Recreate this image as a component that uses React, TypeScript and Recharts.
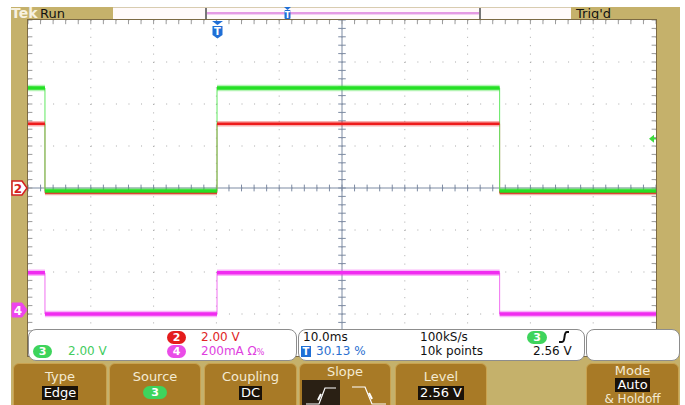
import React from "react";
import {
  CartesianGrid,
  Line,
  LineChart,
  ReferenceDot,
  ReferenceLine,
  XAxis,
  YAxis,
} from "recharts";

// Horizontal unit = graticule division (10 across), vertical unit = division (8 tall, 0 = centre).
const EDGES = [0, 0.27, 3.01, 7.51, 10];
const CH3_LEVELS = [2.38, -0.07, 2.38, -0.07]; // green
const CH2_LEVELS = [1.53, -0.11, 1.53, -0.11]; // red
const CH4_LEVELS = [-2.02, -3.0, -2.02, -3.0]; // magenta
const TRIG_LEVEL = 1.17;

const X_TICKS = [0, 1, 2, 3, 4, 5, 6, 7, 8, 9, 10];
const Y_TICKS = [-4, -3, -2, -1, 0, 1, 2, 3, 4];
const MINOR_X = Array.from({ length: 51 }, (_, i) => i / 5);
const MINOR_Y = Array.from({ length: 41 }, (_, i) => i / 5 - 4);

const PLOT_W = 628;
const PLOT_H = 336;

const TAN = "#c5b16b";
const BTN = "#a87a26";
const FONT = '"DejaVu Sans", Verdana, sans-serif';

type Row = { t: number; v: number | null };

// full trace incl. the vertical edges
function stepRows(levels: number[]): Row[] {
  const rows: Row[] = [];
  levels.forEach((v, i) => {
    rows.push({ t: EDGES[i], v });
    rows.push({ t: EDGES[i + 1], v });
  });
  return rows;
}

// only the flat (noisy) parts, broken at each edge
function flatRows(levels: number[]): Row[] {
  const rows: Row[] = [];
  levels.forEach((v, i) => {
    if (i > 0) rows.push({ t: EDGES[i], v: null });
    rows.push({ t: EDGES[i], v });
    rows.push({ t: EDGES[i + 1], v });
  });
  return rows;
}

function Txt({
  x,
  y,
  color = "#111",
  size = 12,
  bold = false,
  children,
}: {
  x: number;
  y: number;
  color?: string;
  size?: number;
  bold?: boolean;
  children: React.ReactNode;
}) {
  return (
    <span
      style={{
        position: "absolute",
        left: x,
        top: y,
        color,
        fontSize: size,
        fontWeight: bold ? 700 : 400,
        lineHeight: 1,
        whiteSpace: "nowrap",
        fontFamily: FONT,
      }}
    >
      {children}
    </span>
  );
}

function Pill({ x, y, w, h, bg, text }: { x: number; y: number; w: number; h: number; bg: string; text: string }) {
  return (
    <span
      style={{
        position: "absolute",
        left: x,
        top: y,
        width: w,
        height: h,
        borderRadius: h / 2,
        background: bg,
        color: "#fff",
        fontSize: 11,
        fontWeight: 700,
        lineHeight: `${h}px`,
        textAlign: "center",
        fontFamily: FONT,
      }}
    >
      {text}
    </span>
  );
}

function Button({ x, w, children }: { x: number; w: number; children?: React.ReactNode }) {
  return (
    <div
      style={{
        position: "absolute",
        left: x,
        top: 363,
        width: w,
        height: 44,
        background: BTN,
        border: "1px solid #c9a24f",
        borderRadius: "6px 6px 0 0",
        boxSizing: "border-box",
      }}
    >
      {children}
    </div>
  );
}

function BtnLabel({ y, size = 13, children }: { y: number; size?: number; children: React.ReactNode }) {
  return (
    <div
      style={{
        position: "absolute",
        left: 0,
        right: 0,
        top: y,
        textAlign: "center",
        color: "#f4ead2",
        fontSize: size,
        lineHeight: 1,
        fontFamily: FONT,
        whiteSpace: "nowrap",
      }}
    >
      {children}
    </div>
  );
}

function BtnValue({ y, children }: { y: number; children: React.ReactNode }) {
  return (
    <div style={{ position: "absolute", left: 0, right: 0, top: y, textAlign: "center", lineHeight: "14px", height: 14 }}>
      <span
        style={{
          background: "#1a1208",
          color: "#fff",
          fontSize: 13,
          padding: "0 2px",
          fontFamily: FONT,
          lineHeight: "14px",
          display: "inline-block",
          verticalAlign: "top",
        }}
      >
        {children}
      </span>
    </div>
  );
}

function TrigArrow(props: any) {
  const { cx, cy } = props;
  return (
    <g>
      <polygon points={`${cx - 7},${cy} ${cx - 2},${cy - 4} ${cx - 2},${cy + 4}`} fill="#3ddc3d" />
      <line x1={cx - 2} y1={cy} x2={cx + 1} y2={cy} stroke="#3ddc3d" strokeWidth={1.5} />
    </g>
  );
}

export default function App() {
  const seriesDefs = [
    { key: "ch2", levels: CH2_LEVELS, color: "#ee1c1c", edge: "#f06060", w: 2.5 },
    { key: "ch3", levels: CH3_LEVELS, color: "#25e025", edge: "#60e860", w: 3.5 },
    { key: "ch4", levels: CH4_LEVELS, color: "#f02cf0", edge: "#f070f0", w: 3.5 },
  ];

  return (
    <div style={{ position: "absolute", left: 0, top: 0, width: 685, height: 405, background: "#fff", overflow: "hidden" }}>
      {/* scope frame */}
      <div style={{ position: "absolute", left: 11, top: 7, width: 669, height: 398, background: TAN }} />

      {/* top status bar */}
      <div style={{ position: "absolute", left: 113, top: 7, width: 458, height: 13, background: "#fffafa", borderTop: "1px solid #d8ccb0", boxSizing: "border-box" }} />
      <Txt x={11} y={6} color="#f7f1e0" size={14} bold>
        Tek
      </Txt>
      <Txt x={40} y={7} color="#111" size={13}>
        Run
      </Txt>
      <Txt x={576} y={7} color="#111" size={13}>
        Trig&apos;d
      </Txt>
      {/* record view */}
      <div style={{ position: "absolute", left: 205, top: 8, width: 276, height: 11, borderLeft: "2px solid #777", borderRight: "2px solid #777", boxSizing: "border-box" }} />
      <div style={{ position: "absolute", left: 207, top: 12, width: 272, height: 2, background: "#e49be4" }} />
      <div style={{ position: "absolute", left: 207, top: 14, width: 272, height: 1, background: "#f2d0f2" }} />
      <svg style={{ position: "absolute", left: 283, top: 7 }} width={9} height={13}>
        <polygon points="1,0 8,0 4.5,3" fill="#1f6fd6" />
        <rect x={1.5} y={3} width={6} height={9} rx={1} fill="#1f6fd6" />
        <text x={4.5} y={11} fontSize={8} fill="#fff" textAnchor="middle" fontFamily={FONT} fontWeight={700}>
          T
        </text>
      </svg>

      {/* graticule area */}
      <div style={{ position: "absolute", left: 27, top: 19, width: PLOT_W + 2, height: PLOT_H + 2, background: "#fff", border: "1px solid #7c6a44", boxSizing: "border-box" }} />
      <div style={{ position: "absolute", left: 28, top: 20 }}>
        <LineChart width={PLOT_W} height={PLOT_H} margin={{ top: 0, right: 0, bottom: 0, left: 0 }}>
          <XAxis type="number" dataKey="t" domain={[0, 10]} ticks={X_TICKS} hide allowDuplicatedCategory={false} />
          <YAxis type="number" domain={[-4, 4]} ticks={Y_TICKS} hide />
          <CartesianGrid vertical={false} stroke="#a9a9a9" strokeDasharray="1 11.56" />
          <CartesianGrid horizontal={false} stroke="#a9a9a9" strokeDasharray="1 7.4" />
          <ReferenceLine x={5} stroke="#7d8ba3" strokeWidth={1} />
          <ReferenceLine y={0} stroke="#7d8ba3" strokeWidth={1} />
          {MINOR_X.map((x) => (
            <ReferenceLine key={`cx${x}`} segment={[{ x, y: -0.08 }, { x, y: 0.08 }]} stroke="#7d8ba3" />
          ))}
          {MINOR_Y.map((y) => (
            <ReferenceLine key={`cy${y}`} segment={[{ x: 4.94, y }, { x: 5.06, y }]} stroke="#7d8ba3" />
          ))}
          {MINOR_X.map((x) => (
            <ReferenceLine key={`tx${x}`} segment={[{ x, y: 4 }, { x, y: 3.9 }]} stroke="#9a9a9a" />
          ))}
          {MINOR_Y.map((y) => (
            <ReferenceLine key={`lx${y}`} segment={[{ x: 0, y }, { x: 0.07, y }]} stroke="#9a9a9a" />
          ))}
          {MINOR_Y.map((y) => (
            <ReferenceLine key={`rx${y}`} segment={[{ x: 9.93, y }, { x: 10, y }]} stroke="#9a9a9a" />
          ))}
          {seriesDefs.map((s) => (
            <Line
              key={`${s.key}-edge`}
              data={stepRows(s.levels)}
              dataKey="v"
              type="linear"
              stroke={s.edge}
              strokeWidth={1}
              dot={false}
              isAnimationActive={false}
            />
          ))}
          {seriesDefs.map((s) => (
            <Line
              key={`${s.key}-halo`}
              data={flatRows(s.levels)}
              dataKey="v"
              type="linear"
              stroke={s.color}
              strokeOpacity={0.35}
              strokeWidth={s.w + 3}
              dot={false}
              isAnimationActive={false}
            />
          ))}
          {seriesDefs.map((s) => (
            <Line
              key={`${s.key}-core`}
              data={flatRows(s.levels)}
              dataKey="v"
              type="linear"
              stroke={s.color}
              strokeWidth={s.w}
              dot={false}
              isAnimationActive={false}
            />
          ))}
          <ReferenceDot x={10} y={TRIG_LEVEL} r={0} shape={TrigArrow} ifOverflow="visible" />
        </LineChart>
      </div>

      {/* trigger position marker */}
      <svg style={{ position: "absolute", left: 211, top: 21 }} width={13} height={18}>
        <polygon points="1,0 12,0 6.5,4" fill="#1f6fd6" />
        <path d="M1.5 5 H11.5 V14 L6.5 17.5 L1.5 14 Z" fill="#1f6fd6" />
        <text x={6.5} y={14} fontSize={10} fill="#fff" textAnchor="middle" fontFamily={FONT} fontWeight={700}>
          T
        </text>
      </svg>

      {/* channel ground markers */}
      <svg style={{ position: "absolute", left: 11, top: 180 }} width={17} height={16}>
        <path d="M1 1 H11 L16 8 L11 15 H1 Z" fill="#fff" stroke="#d42020" strokeWidth={1.5} />
        <text x={7} y={13} fontSize={12} fill="#d42020" textAnchor="middle" fontFamily={FONT} fontWeight={700}>
          2
        </text>
      </svg>
      <svg style={{ position: "absolute", left: 11, top: 302 }} width={17} height={16}>
        <path d="M1 1 H11 L16 8 L11 15 H1 Z" fill="#ee44ee" stroke="#ee44ee" strokeWidth={1} />
        <text x={7} y={13} fontSize={12} fill="#fff" textAnchor="middle" fontFamily={FONT} fontWeight={700}>
          4
        </text>
      </svg>

      {/* readout panels */}
      {[
        { x: 28, w: 269 },
        { x: 298, w: 287 },
        { x: 586, w: 94 },
      ].map((p) => (
        <div
          key={p.x}
          style={{
            position: "absolute",
            left: p.x,
            top: 329,
            width: p.w,
            height: 32,
            background: "#fff",
            border: "1px solid #8d8d8d",
            borderRadius: 8,
            boxSizing: "border-box",
          }}
        />
      ))}
      <Pill x={167} y={331} w={19} h={13} bg="#e41c1c" text="2" />
      <Txt x={201} y={331} color="#e02626">
        2.00 V
      </Txt>
      <Pill x={33} y={345} w={19} h={13} bg="#3ed45c" text="3" />
      <Txt x={68} y={345} color="#43cc5e">
        2.00 V
      </Txt>
      <Pill x={167} y={345} w={19} h={13} bg="#ea4ce8" text="4" />
      <Txt x={201} y={345} color="#e03ee0">
        200mA Ω<span style={{ fontSize: 8 }}>%</span>
      </Txt>

      <Txt x={303} y={331}>10.0ms</Txt>
      <span
        style={{
          position: "absolute",
          left: 301,
          top: 346,
          width: 10,
          height: 11,
          background: "#1f6fd6",
          color: "#fff",
          fontSize: 10,
          fontWeight: 700,
          lineHeight: "11px",
          textAlign: "center",
          fontFamily: FONT,
        }}
      >
        T
      </span>
      <Txt x={316} y={345} color="#2a6fd0">
        30.13 %
      </Txt>
      <Txt x={420} y={331}>100kS/s</Txt>
      <Txt x={420} y={345}>10k points</Txt>
      <Pill x={527} y={331} w={20} h={13} bg="#3ed45c" text="3" />
      <svg style={{ position: "absolute", left: 558, top: 331 }} width={12} height={12}>
        <path d="M1 11 H4 Q6 11 6.5 6 Q7 1 9 1 H11" fill="none" stroke="#111" strokeWidth={2} />
      </svg>
      <Txt x={533} y={345}>2.56 V</Txt>

      {/* soft-key buttons */}
      <Button x={13} w={94}>
        <BtnLabel y={6}>Type</BtnLabel>
        <BtnValue y={22}>Edge</BtnValue>
      </Button>
      <Button x={109} w={92}>
        <BtnLabel y={6}>Source</BtnLabel>
        <div style={{ position: "absolute", left: 33, top: 22 }}>
          <Pill x={0} y={0} w={24} h={13} bg="#3ed45c" text="3" />
        </div>
      </Button>
      <Button x={204} w={93}>
        <BtnLabel y={6}>Coupling</BtnLabel>
        <BtnValue y={22}>DC</BtnValue>
      </Button>
      <Button x={299} w={92}>
        <BtnLabel y={1}>Slope</BtnLabel>
        <svg style={{ position: "absolute", left: 2, top: 16 }} width={88} height={28}>
          <rect x={0} y={0} width={38} height={28} fill="#2a2014" />
          <path d="M4 24 H17 L23 8 H34" fill="none" stroke="#fff" strokeWidth={1.2} />
          <path d="M16 20 L19 14" stroke="#fff" strokeWidth={2} />
          <path d="M50 7 H63 L70 24 H84" fill="none" stroke="#fff" strokeWidth={1.2} />
          <path d="M67 13 L70 19" stroke="#fff" strokeWidth={2} />
        </svg>
      </Button>
      <Button x={395} w={92}>
        <BtnLabel y={6}>Level</BtnLabel>
        <BtnValue y={22}>2.56 V</BtnValue>
      </Button>
      <Button x={586} w={93}>
        <BtnLabel y={0}>Mode</BtnLabel>
        <BtnValue y={14}>Auto</BtnValue>
        <BtnLabel y={29} size={12}>
          &amp; Holdoff
        </BtnLabel>
      </Button>
    </div>
  );
}
